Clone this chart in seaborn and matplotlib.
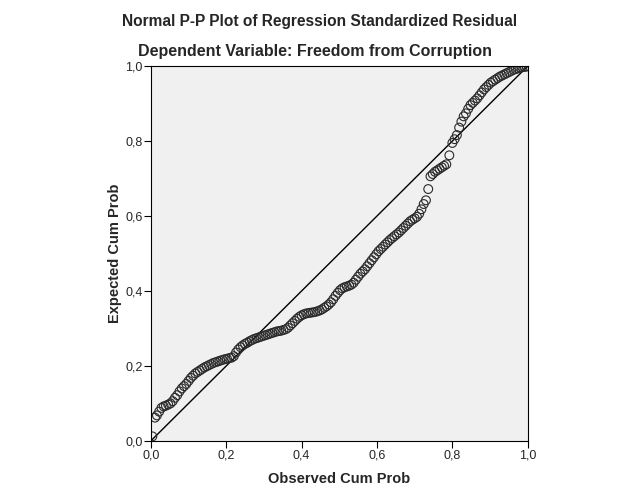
import matplotlib
matplotlib.use("Agg")
import matplotlib.pyplot as plt
from matplotlib.ticker import FuncFormatter
import numpy as np
import pandas as pd
import seaborn as sns

# observed / expected cumulative probabilities
observed = [
    0.004, 0.011, 0.016, 0.022, 0.028, 0.034, 0.040, 0.046, 0.052, 0.058,
    0.064, 0.070, 0.076, 0.082, 0.088, 0.094, 0.100, 0.106, 0.112, 0.118,
    0.124, 0.130, 0.136, 0.142, 0.148, 0.154, 0.160, 0.166, 0.172, 0.178,
    0.184, 0.190, 0.196, 0.202, 0.208, 0.214, 0.220, 0.226, 0.232, 0.238,
    0.244, 0.250, 0.256, 0.262, 0.268, 0.274, 0.280, 0.286, 0.292, 0.298,
    0.304, 0.310, 0.316, 0.322, 0.328, 0.334, 0.340, 0.346, 0.352, 0.358,
    0.364, 0.370, 0.376, 0.382, 0.388, 0.394, 0.400, 0.406, 0.412, 0.418,
    0.424, 0.430, 0.436, 0.442, 0.448, 0.454, 0.460, 0.466, 0.472, 0.478,
    0.484, 0.490, 0.496, 0.502, 0.508, 0.514, 0.520, 0.526, 0.532, 0.538,
    0.544, 0.550, 0.556, 0.562, 0.568, 0.574, 0.580, 0.586, 0.592, 0.598,
    0.604, 0.610, 0.616, 0.622, 0.628, 0.634, 0.640, 0.646, 0.652, 0.658,
    0.664, 0.670, 0.676, 0.682, 0.688, 0.694, 0.700, 0.706, 0.712, 0.718,
    0.724, 0.730, 0.736, 0.742, 0.748, 0.754, 0.760, 0.766, 0.772, 0.778,
    0.784, 0.792, 0.800, 0.806, 0.812, 0.818, 0.824, 0.830, 0.836, 0.842,
    0.848, 0.854, 0.860, 0.866, 0.872, 0.878, 0.884, 0.890, 0.896, 0.902,
    0.908, 0.914, 0.920, 0.926, 0.932, 0.938, 0.944, 0.950, 0.956, 0.962,
    0.968, 0.974, 0.980, 0.986, 0.992, 0.998,
]
expected = [
    0.012, 0.062, 0.068, 0.078, 0.088, 0.092, 0.094, 0.097, 0.100, 0.106,
    0.115, 0.122, 0.132, 0.140, 0.146, 0.152, 0.160, 0.168, 0.174, 0.180,
    0.184, 0.188, 0.192, 0.196, 0.199, 0.202, 0.205, 0.208, 0.210, 0.212,
    0.214, 0.216, 0.218, 0.219, 0.221, 0.222, 0.226, 0.236, 0.244, 0.250,
    0.255, 0.259, 0.262, 0.266, 0.269, 0.272, 0.274, 0.276, 0.278, 0.280,
    0.282, 0.284, 0.286, 0.288, 0.290, 0.292, 0.293, 0.294, 0.296, 0.298,
    0.302, 0.308, 0.314, 0.320, 0.326, 0.331, 0.335, 0.338, 0.340, 0.341,
    0.342, 0.343, 0.344, 0.346, 0.348, 0.351, 0.355, 0.359, 0.364, 0.370,
    0.378, 0.387, 0.395, 0.402, 0.407, 0.410, 0.412, 0.414, 0.417, 0.422,
    0.430, 0.438, 0.446, 0.452, 0.458, 0.466, 0.474, 0.482, 0.490, 0.498,
    0.506, 0.512, 0.518, 0.524, 0.530, 0.536, 0.541, 0.546, 0.551, 0.556,
    0.562, 0.568, 0.574, 0.580, 0.586, 0.590, 0.594, 0.598, 0.606, 0.618,
    0.632, 0.642, 0.672, 0.706, 0.712, 0.718, 0.722, 0.726, 0.730, 0.734,
    0.738, 0.762, 0.795, 0.805, 0.816, 0.836, 0.852, 0.866, 0.874, 0.886,
    0.896, 0.902, 0.908, 0.914, 0.922, 0.930, 0.938, 0.944, 0.950, 0.956,
    0.960, 0.964, 0.968, 0.972, 0.975, 0.978, 0.981, 0.984, 0.987, 0.990,
    0.992, 0.994, 0.996, 0.997, 0.998, 0.999,
]
ticks = [0.0, 0.2, 0.4, 0.6, 0.8, 1.0]

title = "Normal P-P Plot of Regression Standardized Residual"
subtitle = "Dependent Variable: Freedom from Corruption"

sns.set_style("white")
plt.rcParams["font.family"] = ["Liberation Sans", "DejaVu Sans"]

df = pd.DataFrame({"Observed Cum Prob": observed, "Expected Cum Prob": expected})

fig = plt.figure(figsize=(6.26, 5.01), dpi=100)
ax = fig.add_axes([0.241, 0.120, 0.602, 0.748])
ax.set_facecolor("#F0F0F0")

# reference diagonal
ax.plot([0, 1], [0, 1], color="black", lw=1.0, zorder=1)
sns.scatterplot(data=df, x="Observed Cum Prob", y="Expected Cum Prob", ax=ax,
                marker="o", s=40, facecolor="none", edgecolor="#2a2a2a",
                linewidth=0.8, zorder=2)

ax.set_xlim(0, 1)
ax.set_ylim(0, 1)
ax.set_xticks(ticks)
ax.set_yticks(ticks)
fmt = FuncFormatter(lambda v, p: f"{v:.1f}".replace(".", ","))
ax.xaxis.set_major_formatter(fmt)
ax.yaxis.set_major_formatter(fmt)
ax.tick_params(axis="both", direction="out", length=5, width=0.8,
               labelsize=9, color="black", pad=1, bottom=True, left=True)
for s in ax.spines.values():
    s.set_color("black")
    s.set_linewidth(0.8)

ax.set_xlabel("Observed Cum Prob", fontsize=10.5, fontweight="bold", labelpad=8)
ax.set_ylabel("Expected Cum Prob", fontsize=10.5, fontweight="bold", labelpad=2)

fig.text(0.511, 0.957, title, ha="center", va="center",
         fontsize=11.2, fontweight="bold")
fig.text(0.503, 0.897, subtitle, ha="center", va="center",
         fontsize=11.5, fontweight="bold")

fig.savefig("out.png", dpi=100, facecolor="white")
